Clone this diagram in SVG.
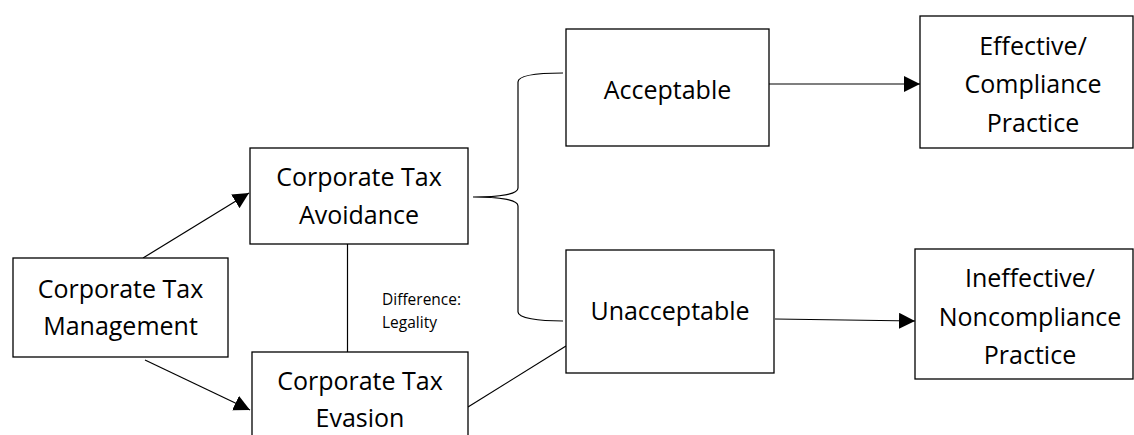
<svg xmlns="http://www.w3.org/2000/svg" width="1134" height="435" viewBox="0 0 1134 435">
<style>
.box{fill:#fff;stroke:#000;stroke-width:1.3}
.t{font-family:"Open Sans","Noto Sans",sans-serif;font-size:25px;fill:#000;text-anchor:middle}
.s{font-family:"Open Sans","Noto Sans",sans-serif;font-size:15.5px;fill:#000}
.ln{fill:none;stroke:#000;stroke-width:1.2}
</style>
<defs>
<marker id="ah" viewBox="0 0 16 16" markerWidth="16" markerHeight="16" markerUnits="userSpaceOnUse" refX="16" refY="8" orient="auto">
<path d="M0,0 L16,8 L0,16 z" fill="#000"/>
</marker>
</defs>
<rect width="1134" height="435" fill="#fff"/>
<g id="connectors">
<line class="ln" x1="143" y1="258" x2="249" y2="193" marker-end="url(#ah)"/>
<line class="ln" x1="145" y1="360" x2="250" y2="410" marker-end="url(#ah)"/>
<line class="ln" x1="347.5" y1="244" x2="347.5" y2="352"/>
<line class="ln" x1="468" y1="407" x2="566" y2="346"/>
<path class="ln" d="M563,73 C538,73 518,75 518,82 L518,188 C518,194 500,197 473,197 C500,197 518,200 518,206 L518,312 C518,318 538,321 563,321"/>
<line class="ln" x1="769" y1="84" x2="920" y2="84" marker-end="url(#ah)"/>
<line class="ln" x1="775" y1="319" x2="915" y2="321" marker-end="url(#ah)"/>
</g>
<g id="management">
<rect class="box" x="13" y="258" width="215" height="99"/>
<text class="t" x="120.5" y="298">Corporate Tax</text>
<text class="t" x="120.5" y="335">Management</text>
</g>
<g id="avoidance">
<rect class="box" x="250" y="148" width="218" height="96"/>
<text class="t" x="359" y="186">Corporate Tax</text>
<text class="t" x="359" y="224">Avoidance</text>
</g>
<g id="evasion">
<rect class="box" x="252" y="352" width="216" height="100"/>
<text class="t" x="360" y="390">Corporate Tax</text>
<text class="t" x="360" y="427">Evasion</text>
</g>
<g id="difference-label">
<text class="s" x="382" y="305">Difference:</text>
<text class="s" x="382" y="328">Legality</text>
</g>
<g id="acceptable">
<rect class="box" x="566" y="29" width="203" height="117"/>
<text class="t" x="667.5" y="99">Acceptable</text>
</g>
<g id="unacceptable">
<rect class="box" x="566" y="250" width="208" height="123"/>
<text class="t" x="670" y="320">Unacceptable</text>
</g>
<g id="effective">
<rect class="box" x="920" y="16" width="213" height="132"/>
<text class="t" x="1033" y="55">Effective/</text>
<text class="t" x="1033" y="93">Compliance</text>
<text class="t" x="1033" y="132">Practice</text>
</g>
<g id="ineffective">
<rect class="box" x="915" y="249" width="218" height="130"/>
<text class="t" x="1030" y="287">Ineffective/</text>
<text class="t" x="1030" y="326">Noncompliance</text>
<text class="t" x="1030" y="364">Practice</text>
</g>
</svg>
